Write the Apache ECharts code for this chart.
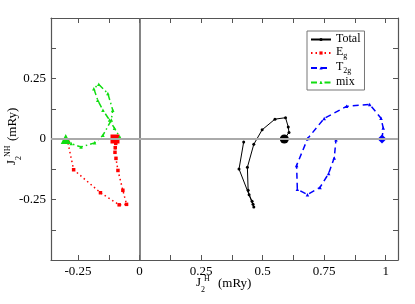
<!DOCTYPE html>
<html><head><meta charset="utf-8">
<script src="https://cdn.jsdelivr.net/npm/echarts@6/dist/echarts.min.js"></script>
<style>html,body{margin:0;padding:0;background:#fff}#c{width:415px;height:304px}</style>
</head><body><div id="c"></div>
<script>
// ---- data ----
const totalPts = [[0.588,0],[0.607,0.027],[0.604,0.05],[0.593,0.088],[0.55,0.082],[0.498,0.038],[0.464,-0.022],[0.438,-0.117],[0.441,-0.212],[0.445,-0.23],[0.457,-0.257],[0.461,-0.27],[0.464,-0.281],[0.404,-0.124],[0.423,-0.012]];
const egPts = [[-0.1,0],[-0.097,-0.018],[-0.099,-0.036],[-0.1,-0.055],[-0.096,-0.08],[-0.088,-0.13],[-0.068,-0.212],[-0.053,-0.27],[-0.083,-0.272],[-0.159,-0.222],[-0.268,-0.127],[-0.292,-0.012]];
const t2gPts = [[0.985,0],[0.99,0.045],[0.981,0.086],[0.935,0.143],[0.841,0.135],[0.75,0.085],[0.683,0.002],[0.638,-0.109],[0.641,-0.208],[0.682,-0.23],[0.733,-0.2],[0.768,-0.143],[0.791,-0.078],[0.798,-0.003]];
const mixPts = [[-0.3,0],[-0.278,-0.019],[-0.238,-0.033],[-0.183,-0.016],[-0.149,0.015],[-0.115,0.078],[-0.109,0.119],[-0.129,0.188],[-0.166,0.226],[-0.186,0.208],[-0.17,0.16],[-0.149,0.119],[-0.122,0.078],[-0.102,0.044],[-0.081,0.009]];
const seriesNames = ['Total','Eg','T2g','mix'];
const xLabelVals = [-0.25,0,0.25,0.5,0.75,1];
const xTickVals = [-0.25,-0.125,0,0.125,0.25,0.375,0.5,0.625,0.75,0.875,1];
const yLabelVals = [-0.25,0,0.25];
const yTickVals = [-0.375,-0.25,-0.125,0,0.125,0.25,0.375];
const xRange = [-0.36, 1.05];
const yRange = [-0.5, 0.5];

const FONT = "'Liberation Serif', 'Times New Roman', serif";
const FRAME = '#555';
const chart = echarts.init(document.getElementById('c'), null, {renderer:'canvas'});

function xAx(pos, showLabel){
  return {type:'value', position:pos, min:xRange[0], max:xRange[1],
    axisLine:{show:true, onZero:false, lineStyle:{color:FRAME,width:1.2}},
    axisTick:{show:true, inside:true, length:5, customValues:xTickVals, lineStyle:{color:FRAME,width:1}},
    axisLabel:{show:showLabel, customValues:xLabelVals, margin:5, fontFamily:FONT, fontSize:13, color:'#000', formatter:v=>String(v)},
    splitLine:{show:false}};
}
function yAx(pos, showLabel){
  return {type:'value', position:pos, min:yRange[0], max:yRange[1],
    axisLine:{show:true, onZero:false, lineStyle:{color:FRAME,width:1.2}},
    axisTick:{show:true, inside:true, length:5, customValues:yTickVals, lineStyle:{color:FRAME,width:1}},
    axisLabel:{show:showLabel, customValues:yLabelVals, margin:5, fontFamily:FONT, fontSize:13, color:'#000', formatter:v=>String(v)},
    splitLine:{show:false}};
}
function withStart(pts, size, sym){
  return pts.map((p,i)=> i===0 ? {value:p, symbolSize:size, symbol:sym} : p);
}
const legendRich = {
  m:{fontFamily:FONT, fontSize:12, color:'#000', verticalAlign:'top', lineHeight:13},
  s:{fontFamily:FONT, fontSize:8, color:'#000', verticalAlign:'top', padding:[6,0,0,0]}
};
const option = {
  animation:false,
  grid:{left:51, right:17, top:18, bottom:44, containLabel:false},
  xAxis:[xAx('bottom',true), xAx('top',false)],
  yAxis:[yAx('left',true), yAx('right',false)],
  legend:{orient:'vertical', left:307, top:31, data:seriesNames,
    backgroundColor:'#fff', borderColor:'#777', borderWidth:1, padding:[2,4,2,3],
    itemWidth:20, itemHeight:4, itemGap:1,
    textStyle:{fontFamily:FONT, fontSize:12, color:'#000', rich:legendRich},
    formatter:function(n){
      if(n==='Eg') return '{m|E}{s|g}';
      if(n==='T2g') return '{m|T}{s|2g}';
      return '{m|'+n+'}';
    }},
  series:[
    {type:'line', name:'zero', data:[], silent:true, z:1, symbol:'none',
      markLine:{silent:true, symbol:'none', label:{show:false}, animation:false,
        data:[{xAxis:0, lineStyle:{color:'#666',width:1.6,type:'solid'}},
              {yAxis:0, lineStyle:{color:'#aaa',width:2,type:'solid'}}]}},
    {type:'line', name:'Total', z:3, data:withStart(totalPts,9,'circle'), symbol:'circle', symbolSize:3,
      lineStyle:{color:'#000',width:1}, itemStyle:{color:'#000'}},
    {type:'line', name:'Eg', z:3, data:withStart(egPts,9,'rect'), symbol:'rect', symbolSize:3.5,
      lineStyle:{color:'#f00',width:1.5,type:[1.5,3]}, itemStyle:{color:'#f00'}},
    {type:'line', name:'T2g', z:3, data:withStart(t2gPts,9,'diamond'), symbol:'triangle', symbolSize:3.5,
      lineStyle:{color:'#00f',width:1.5,type:[6,4]}, itemStyle:{color:'#00f'}},
    {type:'line', name:'mix', z:3, data:withStart(mixPts,10,'triangle'), symbol:'triangle', symbolSize:3.5,
      lineStyle:{color:'#1d1',width:1.5,type:[6,3,1.5,3]}, itemStyle:{color:'#1d1'}}
  ],
  graphic:[
    {type:'group', x:0, y:0, children:[
      {type:'text', x:196, y:283, style:{text:'J', fontFamily:FONT, fontSize:13, fill:'#000', verticalAlign:'middle'}},
      {type:'text', x:201, y:290, style:{text:'2', fontFamily:FONT, fontSize:8, fill:'#000', verticalAlign:'middle'}},
      {type:'text', x:204, y:279, style:{text:'H', fontFamily:FONT, fontSize:8, fill:'#000', verticalAlign:'middle'}},
      {type:'text', x:218, y:284, style:{text:'(mRy)', fontFamily:FONT, fontSize:13, fill:'#000', verticalAlign:'middle'}}
    ]},
    {type:'group', x:12, y:165, rotation:Math.PI/2, children:[
      {type:'text', x:0, y:0, style:{text:'J', fontFamily:FONT, fontSize:13, fill:'#000', verticalAlign:'middle'}},
      {type:'text', x:5, y:7, style:{text:'2', fontFamily:FONT, fontSize:8, fill:'#000', verticalAlign:'middle'}},
      {type:'text', x:8, y:-4, style:{text:'NH', fontFamily:FONT, fontSize:8, fill:'#000', verticalAlign:'middle'}},
      {type:'text', x:24, y:1, style:{text:'(mRy)', fontFamily:FONT, fontSize:13, fill:'#000', verticalAlign:'middle'}}
    ]}
  ]
};
chart.setOption(option);
</script></body></html>
